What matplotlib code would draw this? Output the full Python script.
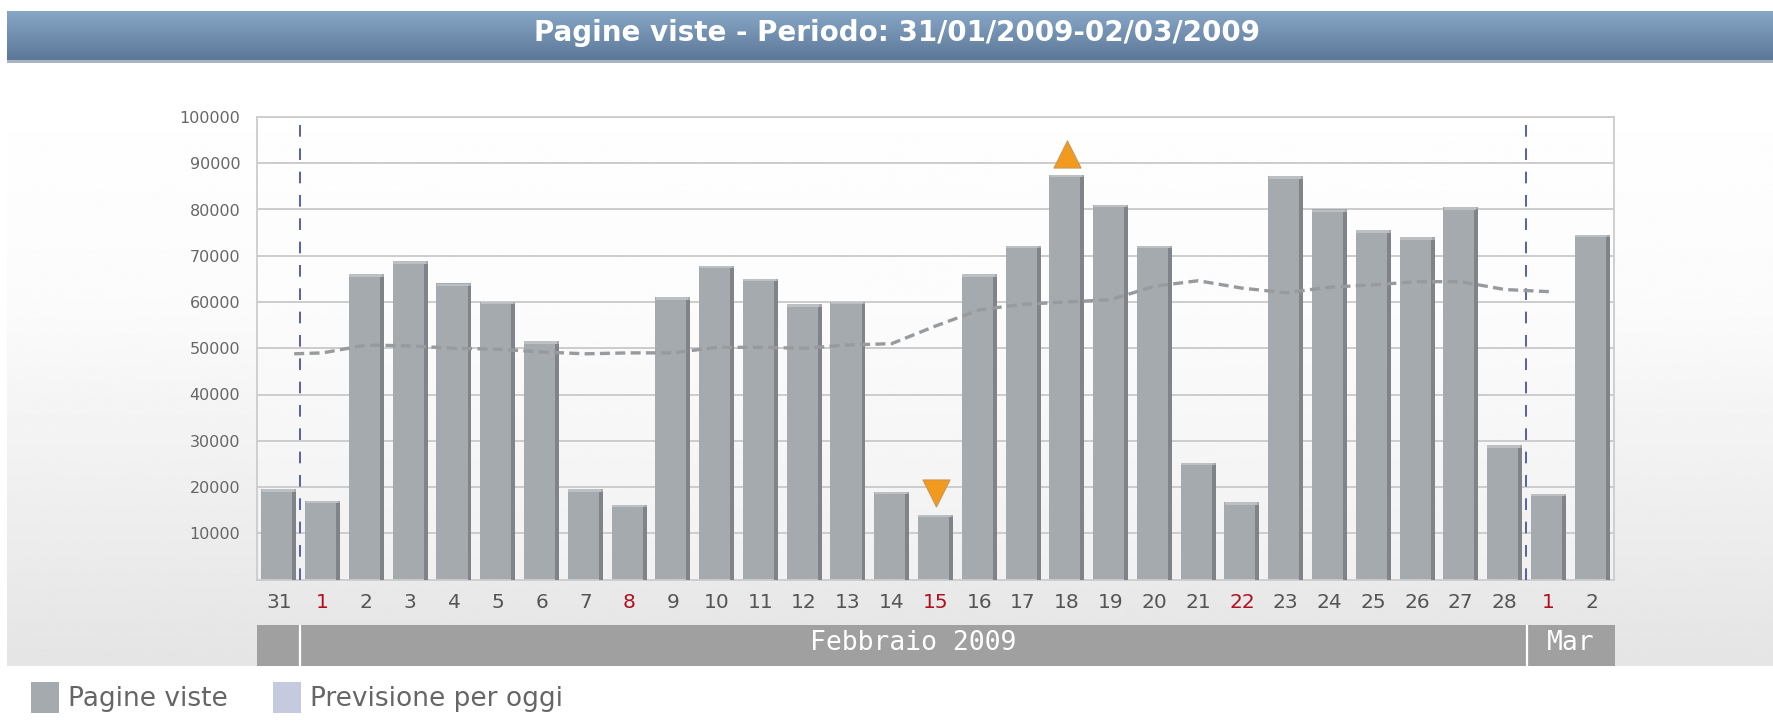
import numpy as np
import matplotlib
matplotlib.use('Agg')
import matplotlib.pyplot as plt
from matplotlib.patches import Rectangle

W, H = 1774, 722

day_labels = ['31', '1', '2', '3', '4', '5', '6', '7', '8', '9', '10', '11', '12', '13', '14', '15',
              '16', '17', '18', '19', '20', '21', '22', '23', '24', '25', '26', '27', '28', '1', '2']
red_days = [1, 8, 15, 22, 29]  # positions of the red labels
pagine_viste = [19500, 17000, 66000, 68800, 64000, 60000, 51500, 19500, 16200, 61000, 67800, 65000,
                59500, 60000, 19000, 14000, 66000, 72200, 87500, 81000, 72200, 25200, 16700, 87200,
                80000, 75500, 74000, 80500, 29000, 18500, 74500]
trend_x = [0.35, 1, 2, 3, 4, 5, 6, 7, 8, 9, 10, 11, 12, 13, 14, 15, 16, 17, 18, 19, 20, 21, 22, 23,
           24, 25, 26, 27, 28, 29.1]
trend_y = [48800, 49000, 50700, 50500, 50000, 49800, 49200, 48800, 49000, 49000, 50200, 50200, 50000,
           50700, 51000, 54800, 58300, 59500, 60000, 60500, 63400, 64600, 63000, 62000, 63200, 63700,
           64400, 64400, 62700, 62200]
month_edges = [-0.5, 0.48, 28.48, 30.5]
month_names = ['', 'Febbraio 2009', 'Mar']
y_ticks = list(range(10000, 100001, 10000))
max_idx = 18
min_idx = 15

fig = plt.figure(figsize=(W / 100, H / 100), dpi=100, facecolor='white')

# Page furniture, in pixel coordinates
bg = fig.add_axes([0, 0, 1, 1])
bg.set_xlim(0, W)
bg.set_ylim(H, 0)
bg.axis('off')

grad = np.interp(np.linspace(70, 666, 300), [70, 300, 666], [1.0, 0.985, 0.895])
bg.imshow(grad[:, None], cmap='gray', vmin=0, vmax=1, extent=[7, W, 666, 70], aspect='auto', zorder=0)

banner = np.linspace(0, 1, 100)[:, None, None]
banner = (1 - banner) * np.array([0.53, 0.65, 0.77]) + banner * np.array([0.36, 0.47, 0.60])
bg.imshow(banner, extent=[7, W, 60, 11], aspect='auto', zorder=1)
bg.add_patch(Rectangle((7, 60), W - 7, 3, color='#a9b4c0', lw=0, zorder=1))
bg.set_xlim(0, W)
bg.set_ylim(H, 0)
bg.text(897, 33, 'Pagine viste - Periodo: 31/01/2009-02/03/2009', color='white', fontsize=20,
        fontweight='bold', ha='center', va='center', family='DejaVu Sans')

# Legend
bg.add_patch(Rectangle((31, 682), 28, 31, color='#a5aaae', lw=0))
bg.add_patch(Rectangle((273, 682), 28, 31, color='#c5cade', lw=0))
bg.text(68, 699, 'Pagine viste', color='#666666', fontsize=19, va='center')
bg.text(310, 699, 'Previsione per oggi', color='#666666', fontsize=19, va='center')

# Main chart
ax = fig.add_axes([257 / W, 1 - 579.5 / H, (1614 - 257) / W, (579.5 - 117) / H])
ax.patch.set_facecolor('white')
ax.patch.set_alpha(0.35)
x = np.arange(len(pagine_viste))
ax.set_xlim(-0.5, 30.5)
ax.set_ylim(0, 100000)
ax.set_yticks(y_ticks)
ax.set_yticklabels([str(v) for v in y_ticks], color='#666666', fontsize=11.5)
ax.set_xticks(x)
ax.set_xticklabels(day_labels, fontsize=14.5, color='#555555')
for i in red_days:
    ax.get_xticklabels()[i].set_color('#b01020')
ax.tick_params(axis='both', length=0)
ax.tick_params(axis='x', pad=10)
ax.tick_params(axis='y', pad=12)
ax.grid(axis='y', color='#cccccc', lw=1.4, zorder=0)
ax.set_axisbelow(True)
for s in ax.spines.values():
    s.set_color('#cccccc')
    s.set_linewidth(1.3)

# bars: body, darker right side, light top edge
bar_w = 0.8
vals = np.array(pagine_viste)
ax.bar(x, vals, width=bar_w, color='#a5aaae', lw=0, zorder=2)
ax.bar(x + bar_w / 2 - 0.045, vals - 500, width=0.09, color='#808488', lw=0, zorder=3)
ax.bar(x - 0.02, 500, bottom=vals - 500, width=bar_w - 0.06, color='#bcc0c3', lw=0, zorder=3)

for xv in (month_edges[1], month_edges[2]):
    ax.plot([xv, xv], [0, 99500], color='#5560a8', lw=1.4, dashes=(6, 6), zorder=4)

ax.plot(trend_x, trend_y, color='#979b9e', lw=2.4, dashes=(3, 1.6), zorder=5)

# Max / min markers
ax.scatter([max_idx], [vals[max_idx] + 4600], marker='^', s=380, color='#f39a1e', edgecolor='#c89858',
           lw=0.8, zorder=6)
ax.scatter([min_idx], [vals[min_idx] + 4600], marker='v', s=380, color='#f39a1e', edgecolor='#c89858',
           lw=0.8, zorder=6)

# Month strip under the axis
strip = fig.add_axes([257 / W, 1 - 666 / H, (1615 - 257) / W, (666 - 625) / H])
strip.set_xlim(-0.5, 30.5)
strip.set_ylim(0, 1)
strip.axis('off')
for left, right, name in zip(month_edges[:-1], month_edges[1:], month_names):
    strip.add_patch(Rectangle((left, 0), right - left, 1, color='#a0a0a0', lw=0))
    strip.text((left + right) / 2, 0.55, name, color='white', fontsize=19, ha='center', va='center',
               family='DejaVu Sans Mono')
for xv in month_edges[1:3]:
    strip.axvline(xv, color='white', lw=1.6)

fig.savefig('out.png', dpi=100)
